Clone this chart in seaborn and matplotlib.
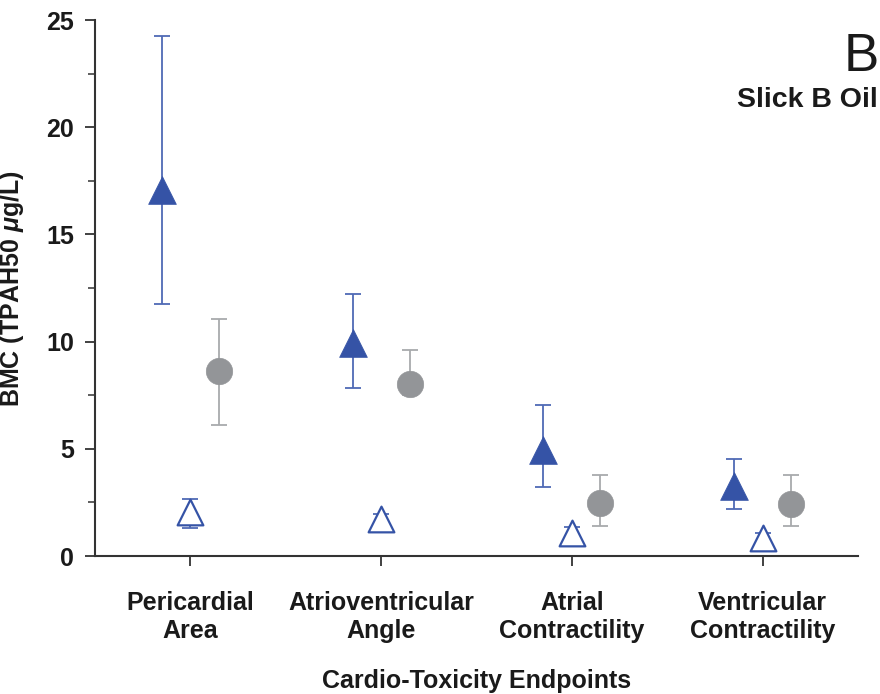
import numpy as np
import pandas as pd
import matplotlib
matplotlib.use("Agg")
import matplotlib.pyplot as plt
import seaborn as sns
from matplotlib.ticker import MultipleLocator

categories = ["Pericardial\nArea", "Atrioventricular\nAngle", "Atrial\nContractility", "Ventricular\nContractility"]

filled_val = [17.05, 9.93, 4.94, 3.26]
filled_lo = [11.75, 7.85, 3.22, 2.19]
filled_hi = [24.25, 12.22, 7.04, 4.52]

open_val = [2.05, 1.73, 1.07, 0.84]
open_lo = [1.31, 1.50, 0.85, 0.62]
open_hi = [2.64, 1.94, 1.37, 1.09]

circle_val = [8.64, 8.02, 2.49, 2.43]
circle_lo = [6.13, 7.50, 1.41, 1.41]
circle_hi = [11.04, 9.61, 3.78, 3.76]

sns.set_theme(style="ticks")
plt.rcParams["font.family"] = ["Liberation Sans", "DejaVu Sans"]
plt.rcParams["mathtext.fontset"] = "custom"
plt.rcParams["mathtext.rm"] = "Liberation Sans:bold"
plt.rcParams["mathtext.it"] = "Liberation Sans:italic:bold"
plt.rcParams["mathtext.bf"] = "Liberation Sans:bold"

fig = plt.figure(figsize=(8.8, 6.94), dpi=100)
ax = fig.add_axes([95/880, 1-556/694, (858-95)/880, (556-20)/694])

blue = "#3553A6"
blue_err = "#4F6AB5"
gray = "#939598"
gray_err = "#A8AAAD"

series = [
    ("filled", filled_val, filled_lo, filled_hi, -0.15),
    ("open", open_val, open_lo, open_hi, 0.0),
    ("circle", circle_val, circle_lo, circle_hi, 0.15),
]

rows = []
for name, vals, lo, hi, off in series:
    for i, (v, l, h) in enumerate(zip(vals, lo, hi)):
        rows.append(dict(series=name, cat=i, x=i + off, y=v, lo=l, hi=h))
df = pd.DataFrame(rows)

styles = {
    "filled": dict(color=blue_err, cap=6.0),
    "open": dict(color=blue_err, cap=6.0),
    "circle": dict(color=gray_err, cap=5.5),
}
for name, sub in df.groupby("series"):
    st = styles[name]
    ax.errorbar(sub["x"], sub["y"],
                yerr=[sub["y"] - sub["lo"], sub["hi"] - sub["y"]],
                fmt="none", ecolor=st["color"], elinewidth=1.3,
                capsize=st["cap"], capthick=1.3, zorder=2)

d = df[df.series == "filled"]
sns.scatterplot(data=d, x="x", y="y", marker="^", s=20**2, color=blue,
                edgecolor=blue, linewidth=0.5, ax=ax, zorder=3, legend=False)
d = df[df.series == "open"]
sns.scatterplot(data=d, x="x", y="y", marker="^", s=18.5**2, facecolor="white",
                edgecolor=blue, linewidth=1.6, ax=ax, zorder=3, legend=False)
d = df[df.series == "circle"]
sns.scatterplot(data=d, x="x", y="y", marker="o", s=19**2, color=gray,
                edgecolor=gray, linewidth=0.5, ax=ax, zorder=3, legend=False)

ax.set_xlim(-0.5, 3.5)
ax.set_ylim(0, 25)
ax.set_xticks(range(len(categories)))
ax.set_xticklabels(categories, fontsize=18, fontweight="bold", linespacing=1.2)
ax.yaxis.set_major_locator(MultipleLocator(5))
ax.yaxis.set_minor_locator(MultipleLocator(2.5))
for lab in ax.get_yticklabels():
    lab.set_fontsize(18)
    lab.set_fontweight("bold")
ax.tick_params(axis="y", which="major", length=7, width=1.3, color="#333333", pad=8, labelcolor="#1a1a1a")
ax.tick_params(axis="y", which="minor", length=5, width=1.1, color="#333333")
ax.tick_params(axis="x", which="major", length=7, width=1.3, color="#333333", pad=18, labelcolor="#1a1a1a")

sns.despine(ax=ax, top=True, right=True)
for sp in ["left", "bottom"]:
    ax.spines[sp].set_linewidth(1.5)
    ax.spines[sp].set_color("#333333")

ax.set_xlabel("Cardio-Toxicity Endpoints", fontsize=18, fontweight="bold", color="#1a1a1a")
ax.xaxis.set_label_coords(0.5, -0.21)
ax.set_ylabel(r"BMC (TPAH50 $\mu$g/L)", fontsize=18, fontweight="bold", color="#1a1a1a")
ax.yaxis.set_label_coords(-0.090, 0.499)

fig.text(879/880, 1-57/694, "B", fontsize=38, ha="right", va="center", color="#1a1a1a")
fig.text(878/880, 1-100/694, "Slick B Oil", fontsize=20.5, fontweight="bold", ha="right", va="center", color="#1a1a1a")

fig.savefig("out.png", dpi=100)
